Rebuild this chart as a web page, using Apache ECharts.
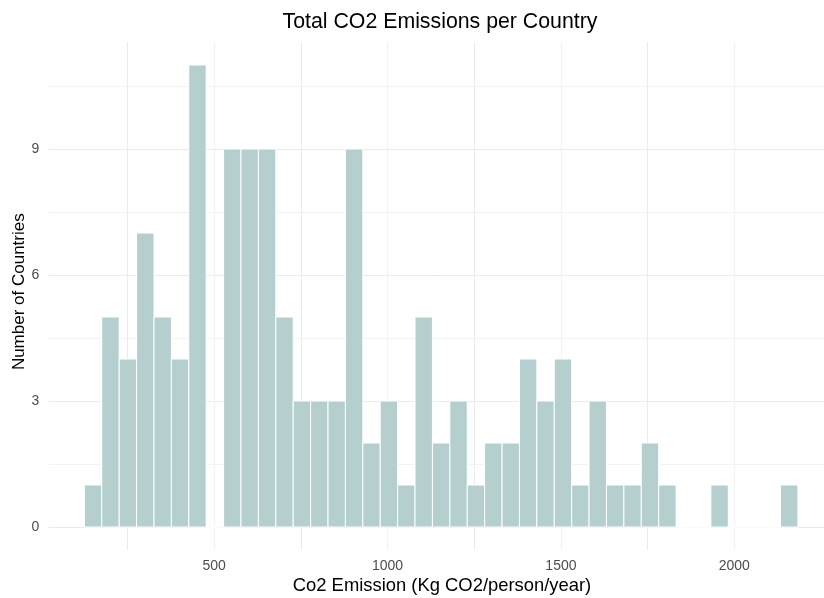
<!DOCTYPE html>
<html><head><meta charset="utf-8">
<script src="https://cdn.jsdelivr.net/npm/echarts@6/dist/echarts.min.js"></script>
<style>html,body{margin:0;padding:0;background:#fff}#c{width:824px;height:598px}</style>
</head><body><div id="c"></div>
<script>
// Histogram bins (centres, Kg CO2/person/year) and counts of countries
const binCenters = [150,200,250,300,350,400,450,500,550,600,650,700,750,800,850,900,950,1000,1050,1100,1150,1200,1250,1300,1350,1400,1450,1500,1550,1600,1650,1700,1750,1800,1850,1900,1950,2000,2050,2100,2150];
const counts     = [1,5,4,7,5,4,11,0,9,9,9,5,3,3,3,9,2,3,1,5,2,3,1,2,2,4,3,4,1,3,1,1,2,1,0,0,1,0,0,0,1];
const binWidth = 50;
const xTickLabels = [500,1000,1500,2000];
const yTickLabels = [0,3,6,9];

const FONT = '"Liberation Sans", Arial, sans-serif';
const chart = echarts.init(document.getElementById('c'), null, {renderer:'canvas'});
const data = binCenters.map((c,i)=>[c, counts[i]]);

chart.setOption({
  backgroundColor:'#ffffff',
  animation:false,
  grid:[
    {left:48.7, top:23, width:776.15, height:504},
    {left:40.75, top:42, width:784.1, height:508}
  ],
  xAxis:[
    {gridIndex:0, type:'value', min:22.5, max:2250, show:false},
    {gridIndex:1, type:'value', min:0, max:2250, interval:250,
     axisLine:{show:false}, axisTick:{show:false},
     axisLabel:{color:'#4d4d4d', fontSize:14, fontFamily:FONT, margin:9,
       formatter:v=> xTickLabels.includes(v) ? String(v) : ''},
     splitLine:{show:true, showMinLine:false, showMaxLine:false,
       lineStyle:{color:['#ebebeb','#f3f3f3'], width:1}}}
  ],
  yAxis:[
    {gridIndex:0, type:'value', min:0, max:12, interval:1.5,
     axisLine:{show:false}, axisTick:{show:false},
     axisLabel:{color:'#4d4d4d', fontSize:14, fontFamily:FONT, margin:9.4,
       formatter:v=> yTickLabels.includes(v) ? String(v) : ''},
     splitLine:{show:true, showMinLine:true, showMaxLine:false,
       lineStyle:{color:['#ebebeb','#f3f3f3'], width:1}}},
    {gridIndex:1, type:'value', min:0, max:1, show:false}
  ],
  series:[{
    type:'custom', xAxisIndex:0, yAxisIndex:0, data:data, clip:false,
    renderItem:function(params, api){
      const c = api.value(0), n = api.value(1);
      const p0 = api.coord([c - binWidth/2, 0]);
      const p1 = api.coord([c + binWidth/2, n]);
      if (n === 0) {
        return {type:'line', shape:{x1:p0[0], y1:p0[1], x2:p1[0], y2:p0[1]},
          style:{stroke:'#ffffff', lineWidth:1.5}};
      }
      return {type:'rect',
        shape:{x:p0[0], y:p1[1], width:p1[0]-p0[0], height:p0[1]-p1[1]},
        style:{fill:'#b5cfce', stroke:'#ffffff', lineWidth:1}};
    }
  }],
  graphic:[
    {type:'text', x:440, y:22, style:{text:'Total CO2 Emissions per Country', fill:'#000',
      font:'21.3px '+FONT, textAlign:'center', textVerticalAlign:'middle'}},
    {type:'text', x:442, y:586, style:{text:'Co2 Emission (Kg CO2/person/year)', fill:'#000',
      font:'18.4px '+FONT, textAlign:'center', textVerticalAlign:'middle'}},
    {type:'text', x:19, y:291.7, rotation:Math.PI/2, style:{text:'Number of Countries', fill:'#000',
      font:'17px '+FONT, textAlign:'center', textVerticalAlign:'middle'}}
  ]
});
</script>
</body></html>
